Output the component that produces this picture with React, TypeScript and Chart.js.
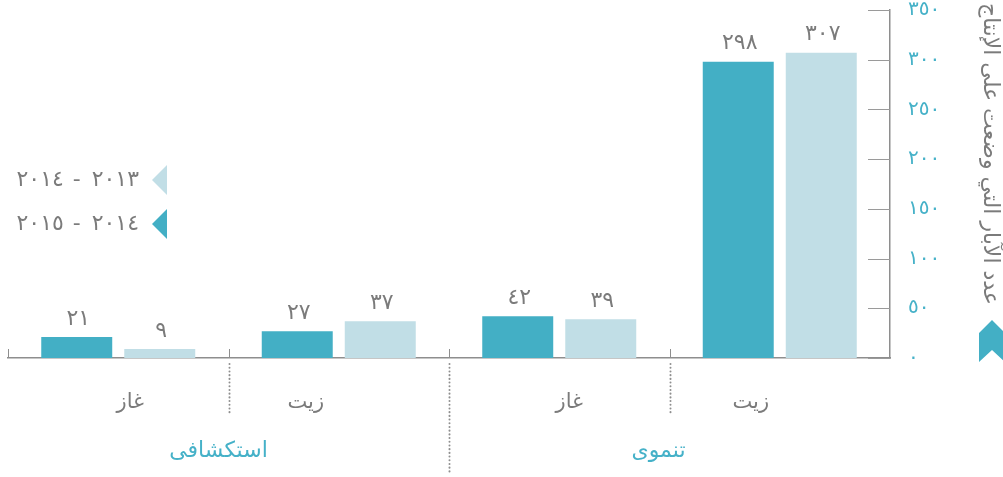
import React, { useEffect, useRef } from 'react';
import { Chart, registerables } from 'chart.js';

Chart.register(...registerables);

// ---- data ----
const categories = ['غاز', 'زيت', 'غاز', 'زيت'];
const groups = ['استكشافى', 'تنموى'];
const groupSpans = [2, 2];
const values2014_2015 = [21, 27, 42, 298];
const values2013_2014 = [9, 37, 39, 307];
const seriesNames = ['٢٠١٤ - ٢٠١٥', '٢٠١٣ - ٢٠١٤'];
const yMax = 350;
const yStep = 50;
const axisTitle = 'عدد الآبار التي وضعت على الإنتاج';

// ---- styles ----
const DARK = '#43afc5';
const LIGHT = '#c1dee6';
const TEAL = '#45b1c8';
const GRAY_TEXT = '#7b7b7b';
const AXIS = '#8e8e8e';
const FONT = '"DejaVu Sans", sans-serif';
const catLabelShift = [12, -33, 10, -29];
const groupLabelShift = [-10, -11];

const toAr = (v: number | string) =>
  String(v).replace(/[0-9]/g, (d) => '٠١٢٣٤٥٦٧٨٩'[+d]);

const decorPlugin = {
  id: 'decor',
  afterDraw(chart: any) {
    const ctx: any = chart.ctx;
    const x = chart.scales.x;
    const y = chart.scales.y;
    const area = chart.chartArea;
    ctx.save();

    // inward y ticks
    ctx.strokeStyle = '#9a9a9a';
    ctx.lineWidth = 1;
    for (let v = 0; v <= yMax; v += yStep) {
      const py = Math.round(y.getPixelForValue(v)) + 0.5;
      ctx.beginPath();
      ctx.moveTo(area.right - 22, py);
      ctx.lineTo(area.right, py);
      ctx.stroke();
    }

    // category boundary ticks & dotted separators
    const half = (x.getPixelForValue(1) - x.getPixelForValue(0)) / 2;
    let groupEnd = 0;
    const groupBoundaries = new Set<number>();
    groupSpans.forEach((s) => {
      groupEnd += s;
      groupBoundaries.add(groupEnd);
    });
    for (let i = 0; i < categories.length; i++) {
      const bx = Math.round(x.getPixelForValue(i) - half) + 0.5;
      ctx.strokeStyle = AXIS;
      ctx.lineWidth = 1;
      ctx.setLineDash([]);
      ctx.beginPath();
      ctx.moveTo(bx, area.bottom - 9);
      ctx.lineTo(bx, area.bottom);
      ctx.stroke();
      if (i > 0) {
        const isGroup = groupBoundaries.has(i);
        ctx.strokeStyle = '#8f8f8f';
        ctx.lineWidth = 2;
        ctx.lineCap = 'round';
        ctx.setLineDash([0.1, 3.6]);
        ctx.beginPath();
        ctx.moveTo(bx, area.bottom + 6);
        ctx.lineTo(bx, area.bottom + (isGroup ? 116 : 55));
        ctx.stroke();
        ctx.setLineDash([]);
        ctx.lineCap = 'butt';
      }
    }

    // bar value labels
    ctx.fillStyle = GRAY_TEXT;
    ctx.font = `22px ${FONT}`;
    ctx.textAlign = 'center';
    ctx.textBaseline = 'middle';
    ctx.letterSpacing = '3px';
    chart.data.datasets.forEach((ds: any, di: number) => {
      const meta = chart.getDatasetMeta(di);
      meta.data.forEach((bar: any, i: number) => {
        ctx.fillText(toAr(ds.data[i]), bar.x + 1.5, bar.y - 18);
      });
    });
    ctx.letterSpacing = '0px';

    // category labels
    ctx.direction = 'rtl';
    ctx.font = `21px ${FONT}`;
    ctx.fillStyle = GRAY_TEXT;
    categories.forEach((c, i) => {
      ctx.fillText(c, x.getPixelForValue(i) + catLabelShift[i], area.bottom + 45);
    });

    // group labels
    ctx.fillStyle = TEAL;
    ctx.font = `22px ${FONT}`;
    let start = 0;
    groups.forEach((g, gi) => {
      const end = start + groupSpans[gi] - 1;
      const cx = (x.getPixelForValue(start) + x.getPixelForValue(end)) / 2;
      ctx.fillText(g, cx + groupLabelShift[gi], area.bottom + 93);
      start += groupSpans[gi];
    });

    // legend (left)
    const legendItems = [
      { name: seriesNames[1], color: LIGHT, cy: 180 },
      { name: seriesNames[0], color: DARK, cy: 224 },
    ];
    legendItems.forEach((it) => {
      ctx.fillStyle = it.color;
      ctx.beginPath();
      ctx.moveTo(152, it.cy);
      ctx.lineTo(167, it.cy - 15);
      ctx.lineTo(167, it.cy + 15);
      ctx.closePath();
      ctx.fill();
      ctx.fillStyle = GRAY_TEXT;
      ctx.font = `22px ${FONT}`;
      ctx.letterSpacing = '2px';
      ctx.textAlign = 'right';
      ctx.direction = 'rtl';
      ctx.fillText(it.name, 139, it.cy);
      ctx.letterSpacing = '0px';
    });

    // axis title rotated
    ctx.save();
    ctx.translate(990, 154);
    ctx.rotate(Math.PI / 2);
    ctx.fillStyle = GRAY_TEXT;
    ctx.font = `22px ${FONT}`;
    ctx.textAlign = 'center';
    ctx.direction = 'rtl';
    ctx.fillText(axisTitle, 0, 0);
    ctx.restore();

    // bookmark icon
    ctx.fillStyle = DARK;
    ctx.beginPath();
    ctx.moveTo(979, 333);
    ctx.lineTo(992, 320);
    ctx.lineTo(1005, 333);
    ctx.lineTo(1005, 362);
    ctx.lineTo(992, 350);
    ctx.lineTo(979, 362);
    ctx.closePath();
    ctx.fill();

    ctx.restore();
  },
};

export default function App() {
  const ref = useRef<HTMLCanvasElement>(null);
  useEffect(() => {
    if (!ref.current) return;
    const chart = new Chart(ref.current, {
      type: 'bar',
      data: {
        labels: categories,
        datasets: [
          {
            label: seriesNames[0],
            data: values2014_2015,
            backgroundColor: DARK,
            categoryPercentage: 0.753,
            barPercentage: 0.855,
          },
          {
            label: seriesNames[1],
            data: values2013_2014,
            backgroundColor: LIGHT,
            categoryPercentage: 0.753,
            barPercentage: 0.855,
          },
        ],
      },
      options: {
        animation: false,
        responsive: false,
        maintainAspectRatio: false,
        layout: { padding: { left: 8, top: 10, right: 0, bottom: 119 } },
        plugins: { legend: { display: false }, tooltip: { enabled: false } },
        scales: {
          x: {
            grid: { display: false, drawTicks: false },
            ticks: { display: false },
            border: { display: true, color: AXIS, width: 1.5 },
            afterFit: (s: any) => {
              s.height = 0;
              s.paddingLeft = 0;
              s.paddingRight = 0;
            },
          },
          y: {
            position: 'right',
            min: 0,
            max: yMax,
            grid: { display: false, drawTicks: false },
            border: { display: true, color: AXIS, width: 1.5 },
            ticks: {
              stepSize: yStep,
              color: TEAL,
              padding: 18,
              font: { family: FONT, size: 20 },
              callback: (v: any) => toAr(v),
            },
            afterFit: (s: any) => {
              s.width = 113;
              s.paddingTop = 0;
              s.paddingBottom = 0;
            },
          },
        },
      },
      plugins: [decorPlugin],
    } as any);
    return () => chart.destroy();
  }, []);
  return (
    <div style={{ position: 'fixed', left: 0, top: 0, width: 1003, height: 477, background: '#fff' }}>
      <canvas ref={ref} width={1003} height={477} style={{ display: 'block' }} />
    </div>
  );
}
